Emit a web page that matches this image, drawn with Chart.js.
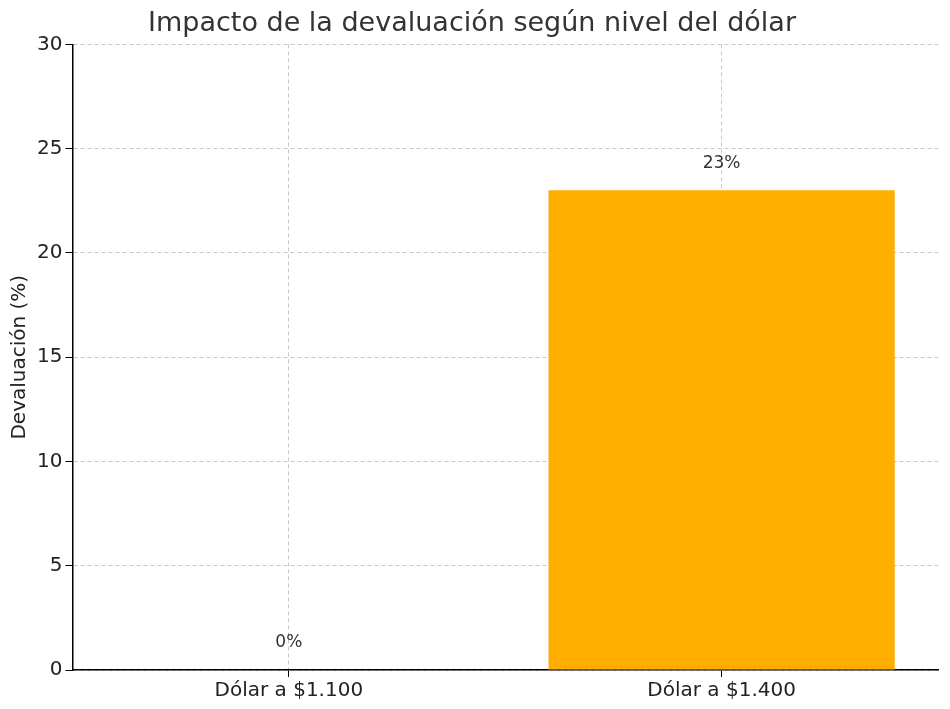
<!DOCTYPE html>
<html><head><meta charset="utf-8">
<script src="https://cdn.jsdelivr.net/npm/chart.js@4"></script>
<style>html,body{margin:0;padding:0;background:#fff}#w{width:950px;height:709px}</style>
</head><body><div id="w"><canvas id="c" width="950" height="709"></canvas></div>
<script>
const categories = ["Dólar a $1.100", "Dólar a $1.400"];
const devaluation = [0, 23];
const valueLabels = ["0%", "23%"];
const yTicks = [0, 5, 10, 15, 20, 25, 30];

const labelPlugin = {
  id: 'vl',
  afterDatasetsDraw(chart) {
    const ctx = chart.ctx, y = chart.scales.y, x = chart.scales.x;
    ctx.save();
    ctx.font = '17px "DejaVu Sans"';
    ctx.fillStyle = '#333';
    ctx.textAlign = 'center';
    ctx.textBaseline = 'bottom';
    devaluation.forEach((v, i) => {
      ctx.fillText(valueLabels[i], x.getPixelForValue(i), y.getPixelForValue(v + 0.9));
    });
    ctx.restore();
  }
};

new Chart(document.getElementById('c'), {
  type: 'bar',
  data: { labels: categories, datasets: [{ data: devaluation, backgroundColor: '#FFAE00', barPercentage: 0.8, categoryPercentage: 1.0 }] },
  options: {
    responsive: false, animation: false,
    layout: { padding: { left: 6, right: 12, top: 4, bottom: 4 } },
    plugins: {
      legend: { display: false }, tooltip: { enabled: false },
      title: { display: true, text: 'Impacto de la devaluación según nivel del dólar', font: { family: 'DejaVu Sans', size: 27, weight: 'normal' }, color: '#333', padding: { top: 4, bottom: 4 } }
    },
    scales: {
      x: {
        grid: { color: '#c8c8c8', offset: false, tickLength: 7, tickColor: '#000' },
        border: { color: '#000', width: 1.5, dash: [4, 3] },
        ticks: { font: { family: 'DejaVu Sans', size: 20 }, color: '#222', padding: 2 }
      },
      y: {
        min: 0, max: 30,
        afterBuildTicks: s => { s.ticks = yTicks.map(v => ({ value: v })); },
        grid: { color: '#c8c8c8', tickLength: 7, tickColor: '#000' },
        border: { color: '#000', width: 1.5, dash: [4, 3] },
        ticks: { font: { family: 'DejaVu Sans', size: 20 }, color: '#222', padding: 3 },
        title: { display: true, text: 'Devaluación (%)', font: { family: 'DejaVu Sans', size: 20 }, color: '#222', padding: 2 }
      }
    }
  },
  plugins: [labelPlugin]
});
</script></body></html>
